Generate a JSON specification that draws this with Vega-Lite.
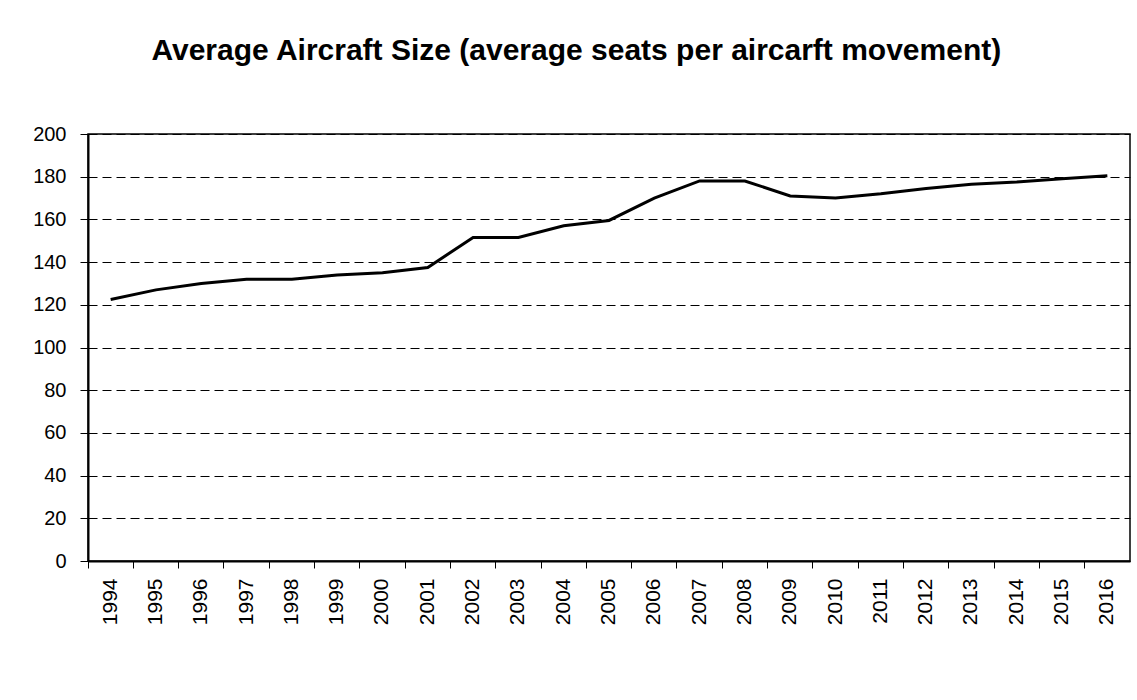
{
  "$schema": "https://vega.github.io/schema/vega-lite/v6.json",
  "width": 1042,
  "height": 427,
  "padding": {"top": 36, "left": 32, "right": 7, "bottom": 5},
  "background": "white",
  "title": {
    "text": "Average Aircraft Size (average seats per aircarft movement)",
    "font": "Liberation Sans",
    "fontSize": 30,
    "fontWeight": "bold",
    "color": "black",
    "anchor": "middle",
    "frame": "bounds",
    "baseline": "alphabetic",
    "offset": 34,
    "dx": -5
  },
  "data": {
    "values": [
      {"year": "1994", "seats": 122.5},
      {"year": "1995", "seats": 127},
      {"year": "1996", "seats": 130},
      {"year": "1997", "seats": 132},
      {"year": "1998", "seats": 132},
      {"year": "1999", "seats": 134},
      {"year": "2000", "seats": 135},
      {"year": "2001", "seats": 137.5},
      {"year": "2002", "seats": 151.5},
      {"year": "2003", "seats": 151.5},
      {"year": "2004", "seats": 157},
      {"year": "2005", "seats": 159.5},
      {"year": "2006", "seats": 170},
      {"year": "2007", "seats": 178},
      {"year": "2008", "seats": 178},
      {"year": "2009", "seats": 171},
      {"year": "2010", "seats": 170},
      {"year": "2011", "seats": 172},
      {"year": "2012", "seats": 174.5},
      {"year": "2013", "seats": 176.5},
      {"year": "2014", "seats": 177.5},
      {"year": "2015", "seats": 179},
      {"year": "2016", "seats": 180.5}
    ]
  },
  "mark": {"type": "line", "color": "black", "strokeWidth": 3},
  "encoding": {
    "x": {
      "field": "year",
      "type": "ordinal",
      "scale": {"type": "band", "paddingInner": 0, "paddingOuter": 0},
      "axis": {
        "title": null,
        "labelAngle": -90,
        "labelFont": "Liberation Sans",
        "labelFontSize": 21,
        "labelColor": "black",
        "labelPadding": 10,
        "tickSize": 7,
        "tickColor": "black",
        "tickWidth": 1,
        "bandPosition": 0,
        "domainColor": "black",
        "domainWidth": 2,
        "grid": false
      }
    },
    "y": {
      "field": "seats",
      "type": "quantitative",
      "scale": {"domain": [0, 200], "nice": false},
      "axis": {
        "title": null,
        "values": [0, 20, 40, 60, 80, 100, 120, 140, 160, 180, 200],
        "labelFont": "Liberation Sans",
        "labelFontSize": 20,
        "labelColor": "black",
        "labelPadding": 14,
        "tickSize": 8,
        "tickColor": "black",
        "tickWidth": 1,
        "domainColor": "black",
        "domainWidth": 2,
        "grid": true,
        "gridColor": "black",
        "gridWidth": 1,
        "gridDash": [9, 5]
      }
    }
  },
  "config": {
    "view": {"stroke": "black", "strokeWidth": 1.5}
  }
}
